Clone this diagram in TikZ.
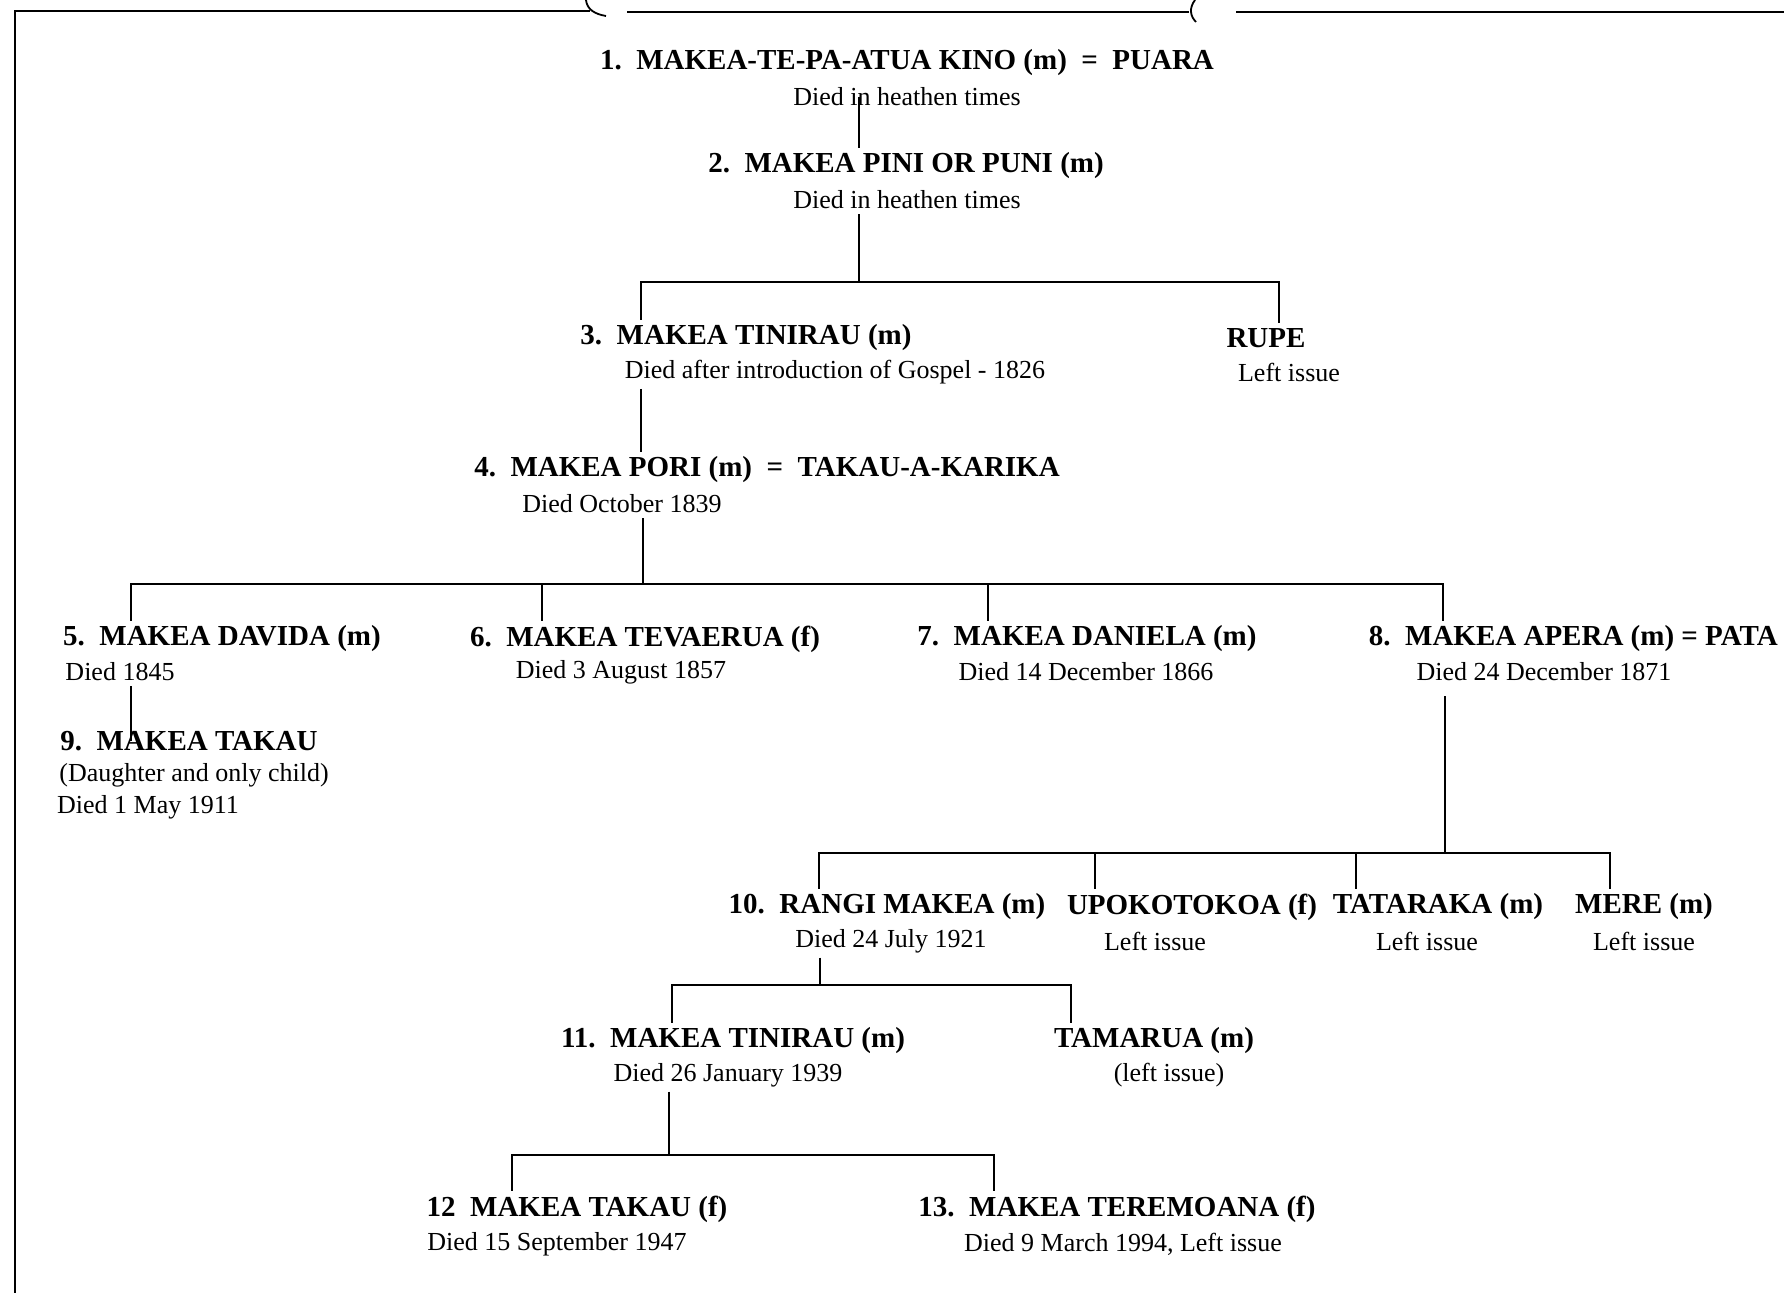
\documentclass[tikz,border=0pt]{standalone}
\usepackage{fontspec}
\setmainfont{Liberation Serif}
\usepackage{tikz}

\tikzset{
  chief/.style={font=\fontsize{14.5}{17}\selectfont\bfseries, inner sep=2pt},
  died/.style={font=\fontsize{13}{15}\selectfont, inner sep=2pt},
}

\begin{document}
\begin{tikzpicture}[x=0.5pt, y=-0.5pt, line width=0.9pt]
\useasboundingbox (0,0) rectangle (1784,1293);

% frame of the page
\draw (15,1293) -- (15,11) -- (590,11);
\draw (586,0) .. controls (587,9) and (594,14) .. (606,16);
\draw (627,12) -- (1189,12);
\draw (1195,0) .. controls (1189,8) and (1190,16) .. (1196,22);
\draw (1236,12) -- (1784,12);

\node[chief] (n1) at (907,63) {1.\ \ MAKEA-TE-PA-ATUA KINO (m)\ \ =\ \ PUARA};
\node[died] (d1) at (907,97) {Died in heathen times};
\node[chief] (n2) at (906,166) {2.\ \ MAKEA PINI OR PUNI (m)};
\node[died] (d2) at (907,200) {Died in heathen times};

\node[chief] (n3) at (746,338) {3.\ \ MAKEA TINIRAU (m)};
\node[died] (d3) at (835,372) {Died after introduction of Gospel - 1826};
\node[chief] (rupe) at (1266,338) {RUPE};
\node[died] (drupe) at (1289,372) {Left issue};

\node[chief] (n4) at (767,470) {4.\ \ MAKEA PORI (m)\ \ =\ \ TAKAU-A-KARIKA};
\node[died] (d4) at (622,504) {Died October 1839};

\node[chief] (n5) at (222,639) {5.\ \ MAKEA DAVIDA (m)};
\node[died] (d5) at (120,672) {Died 1845};
\node[chief] (n6) at (645,639) {6.\ \ MAKEA TEVAERUA (f)};
\node[died] (d6) at (621,672) {Died 3 August 1857};
\node[chief] (n7) at (1087,639) {7.\ \ MAKEA DANIELA (m)};
\node[died] (d7) at (1086,672) {Died 14 December 1866};
\node[chief, anchor=west] (n8) at (1364,639) {8.\ \ MAKEA APERA (m) = PATA};
\node[died] (d8) at (1544,672) {Died 24 December 1871};

\node[chief] (n9) at (189,741) {9.\ \ MAKEA TAKAU};
\node[died] (d9) at (194,775) {(Daughter and only child)};
\node[died] (e9) at (148,807) {Died 1 May 1911};

\node[chief] (n10) at (887,907) {10.\ \ RANGI MAKEA (m)};
\node[died] (d10) at (891,941) {Died 24 July 1921};
\node[chief] (upo) at (1192,907) {UPOKOTOKOA (f)};
\node[died] (dupo) at (1155,941) {Left issue};
\node[chief] (tat) at (1438,907) {TATARAKA (m)};
\node[died] (dtat) at (1427,941) {Left issue};
\node[chief] (mere) at (1644,907) {MERE (m)};
\node[died] (dmere) at (1644,941) {Left issue};

\node[chief] (n11) at (733,1041) {11.\ \ MAKEA TINIRAU (m)};
\node[died] (d11) at (728,1075) {Died 26 January 1939};
\node[chief] (tam) at (1154,1041) {TAMARUA (m)};
\node[died] (dtam) at (1169,1075) {(left issue)};

\node[chief] (n12) at (577,1209) {12\ \ MAKEA TAKAU (f)};
\node[died] (d12) at (557,1244) {Died 15 September 1947};
\node[chief] (n13) at (1117,1209) {13.\ \ MAKEA TEREMOANA (f)};
\node[died] (d13) at (1123,1244) {Died 9 March 1994, Left issue};

% junctions on the bars
\coordinate (j2) at (859,282);
\coordinate (b3a) at (641,282);
\coordinate (b3b) at (1279,282);
\coordinate (j4) at (643,584);
\coordinate (b5a) at (131,584);
\coordinate (b5b) at (542,584);
\coordinate (b5c) at (988,584);
\coordinate (b5d) at (1443,584);
\coordinate (j8) at (1445,853);
\coordinate (b10a) at (819,853);
\coordinate (b10b) at (1095,853);
\coordinate (b10c) at (1356,853);
\coordinate (b10d) at (1610,853);
\coordinate (j10) at (820,985);
\coordinate (b11a) at (672,985);
\coordinate (b11b) at (1071,985);
\coordinate (j11) at (669,1155);
\coordinate (b12a) at (512,1155);
\coordinate (b12b) at (994,1155);

\draw (d1.center -| j2) -- (n2.north -| j2);
\draw (d2.south -| j2) -- (j2);
\draw (n3.north -| b3a) -- (b3a) -- (b3b) -- (rupe.north -| b3b);

\draw (d3.south -| b3a) -- (n4.north -| b3a);
\draw (d4.south -| j4) -- (j4);
\draw (n5.north -| b5a) -- (b5a) -- (b5d) -- (n8.north -| b5d);
\draw (b5b) -- (n6.north -| b5b);
\draw (b5c) -- (n7.north -| b5c);

\draw (d5.south -| b5a) -- (n9.center -| b5a);

\draw[shorten <=5pt] (d8.south -| j8) -- (j8);
\draw (n10.north -| b10a) -- (b10a) -- (b10d) -- (mere.north -| b10d);
\draw (b10b) -- (upo.north -| b10b);
\draw (b10c) -- (tat.north -| b10c);

\draw (d10.south -| j10) -- (j10);
\draw (n11.north -| b11a) -- (b11a) -- (b11b) -- (tam.north -| b11b);

\draw (d11.south -| j11) -- (j11);
\draw (n12.north -| b12a) -- (b12a) -- (b12b) -- (n13.north -| b12b);
\end{tikzpicture}
\end{document}
